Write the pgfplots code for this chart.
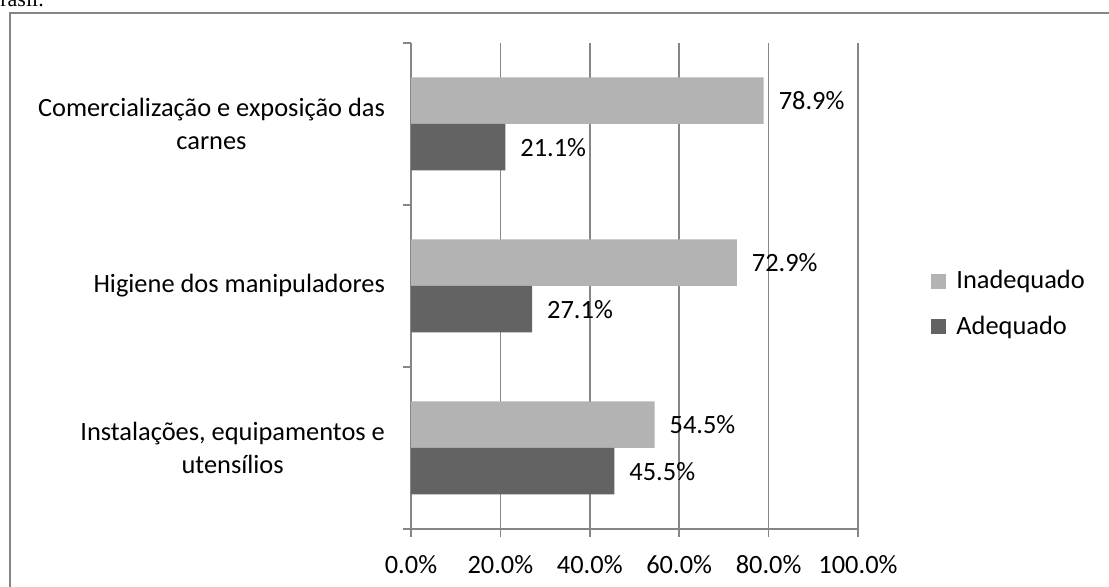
\documentclass[border=0pt]{standalone}
\usepackage{pgfplots}
\pgfplotsset{compat=1.18}
\usepackage{fontspec}
\setmainfont{Carlito}
\newfontfamily\seriffont{Liberation Serif}
\definecolor{lightbar}{RGB}{179,179,179}
\definecolor{darkbar}{RGB}{99,99,99}
\definecolor{gridc}{RGB}{134,134,134}
\newcommand{\cf}{\fontsize{13.2}{16.5}\selectfont}
\begin{document}
\begin{tikzpicture}[x=0.5pt,y=0.5pt]
\useasboundingbox (0,0) rectangle (1109,587);
\fill[white] (0,0) rectangle (1109,587);
\node[anchor=base west, font=\seriffont\fontsize{11}{13}\selectfont, inner sep=0pt] at (-14.7,580) {Brasil.};
\draw[color=gridc, line width=1pt] (10,-10) -- (10,574) -- (1120,574);
\begin{axis}[
  at={(205.5pt,29pt)}, anchor=south west,
  scale only axis, width=223.5pt, height=243pt,
  xbar, bar width=23.25pt,
  xmin=0, xmax=100, ymin=-0.5, ymax=2.5,
  axis lines*=left,
  axis line style={color=gridc, line width=0.75pt},
  xmajorgrids=true,
  grid style={color=gridc, line width=0.75pt},
  tick align=outside,
  major tick length=4pt,
  minor tick length=4pt,
  every tick/.append style={color=gridc, line width=0.75pt},
  every major y tick/.append style={draw=none},
  xtick={0,20,40,60,80,100},
  xticklabel={\pgfmathprintnumber[fixed,zerofill,precision=1]{\tick}\%},
  ytick={0,1,2},
  minor ytick={-0.5,0.5,1.5,2.5},
  yticklabels={{Instalações, equipamentos e\\utensílios},{Higiene dos manipuladores},{Comercialização e exposição das\\carnes}},
  yticklabel style={align=center, font=\cf, xshift=-5.5pt},
  xticklabel style={font=\cf, yshift=-5.5pt},
  /pgf/number format/assume math mode=true,
  point meta=x,
  nodes near coords={\pgfmathprintnumber[fixed,zerofill,precision=1,assume math mode=true]{\pgfplotspointmeta}\%},
  every node near coord/.append style={font=\cf, anchor=west, xshift=4pt, color=black},
  legend style={at={(1.162,0.463)}, anchor=west, draw=none, fill=none, font=\cf,
    inner sep=0pt, row sep=8pt, /tikz/every odd column/.append style={column sep=3pt}},
  legend cell align=left,
  legend image code/.code={\draw[#1,draw=none] (0pt,-3.9pt) rectangle (7.8pt,3.9pt);},
]
\addplot[fill=lightbar, draw=none, bar shift=11.625pt] coordinates {(54.5,0) (72.9,1) (78.9,2)};
\addplot[fill=darkbar, draw=none, bar shift=-11.625pt] coordinates {(45.5,0) (27.1,1) (21.1,2)};
\legend{Inadequado, Adequado}
\end{axis}
\end{tikzpicture}
\end{document}
